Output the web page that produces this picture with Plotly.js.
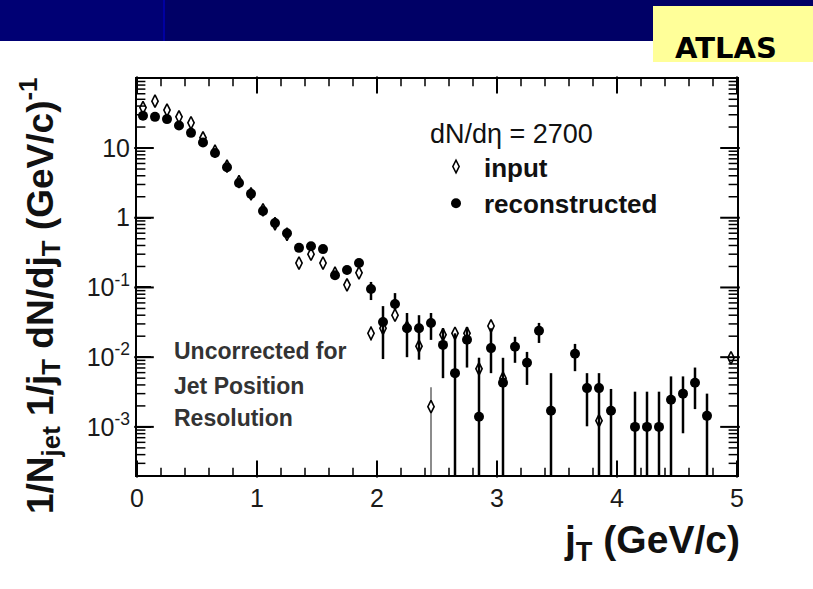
<!DOCTYPE html>
<html>
<head>
<meta charset="utf-8">
<script src="https://cdn.plot.ly/plotly-3.0.1.min.js"></script>
<style>
html,body{margin:0;padding:0;background:#ffffff;}
#chart{width:813px;height:589px;}
</style>
</head>
<body>
<div id="chart"></div>
<script>
// bin centres of j_T (GeV/c)
const jT = [0.05,0.15,0.25,0.35,0.45,0.55,0.65,0.75,0.85,0.95,
            1.05,1.15,1.25,1.35,1.45,1.55,1.65,1.75,1.85,1.95,
            2.05,2.15,2.25,2.35,2.45,2.55,2.65,2.75,2.85,2.95,
            3.05,3.15,3.25,3.35,3.45,3.55,3.65,3.75,3.85,3.95,
            4.05,4.15,4.25,4.35,4.45,4.55,4.65,4.75,4.85,4.95];

// reconstructed (filled circles)
const reco = [29,28,26,21,16.5,12,8.5,5.3,3.15,2.2,
              1.25,0.84,0.60,0.37,0.39,0.355,0.15,0.178,0.224,0.095,
              0.032,0.058,0.026,0.026,0.031,0.015,0.0059,0.0178,0.0014,0.0135,
              0.0043,0.0141,0.0083,0.024,0.0017,null,0.0112,0.0036,0.0036,0.0017,
              null,0.0010,0.0010,0.0010,0.00245,0.0030,0.0043,0.00144,null,null];
// upper / lower ends of the error bars of the reconstructed points
const recoHi = [null,null,null,null,null,null,null,null,null,null,
                null,null,0.65,0.41,0.43,0.39,0.17,0.20,0.25,0.12,
                0.054,0.083,0.043,0.040,0.043,0.026,0.022,0.027,0.0098,0.026,
                0.0098,0.0196,0.0119,0.031,0.0059,null,0.0155,0.0059,0.0059,0.0035,
                null,0.0032,0.0032,0.0032,0.0053,0.0053,0.0071,0.0030,null,null];
const recoLo = [null,null,null,null,null,null,null,null,null,null,
                null,null,0.55,0.33,0.35,0.32,0.13,0.155,0.20,0.066,
                0.0094,0.048,0.010,0.0092,0.0177,0.005,0.0001,0.0071,0.0001,0.0059,
                0.0001,0.0083,0.004,0.016,0.0001,null,0.0063,0.00102,0.0001,0.0001,
                null,0.0001,0.0001,0.0001,0.0001,0.00081,0.0018,0.0001,null,null];

// input (open markers)
const input = [38,47,35,28,23,14,9,5.5,3.3,2.2,
               1.3,0.82,0.58,0.224,0.30,0.224,0.16,0.109,0.162,0.022,
               0.026,0.040,0.027,0.0144,0.00195,0.021,0.022,0.022,0.0068,0.028,
               0.005,null,null,null,null,null,null,null,0.00123,null,
               null,null,null,null,null,null,null,null,null,0.0098];
const inputHi = [null,null,null,null,null,null,null,null,null,null,
                 null,null,null,null,null,null,null,null,null,0.028,
                 null,null,null,0.018,0.0037,null,null,null,0.0098,null,
                 0.0075,null,null,null,null,null,null,null,0.0045,null,
                 null,null,null,null,null,null,null,null,null,0.0115];
const inputLo = [null,null,null,null,null,null,null,null,null,null,
                 null,null,null,null,null,null,null,null,null,0.017,
                 null,null,null,0.011,0.0001,null,null,null,0.0034,null,
                 0.0025,null,null,null,null,null,null,null,0.0001,null,
                 null,null,null,null,null,null,null,null,null,0.0085];

const yTickVals = [0.001,0.01,0.1,1,10];
const yTickText = ['10<sup>-3</sup>','10<sup>-2</sup>','10<sup>-1</sup>','1','10'];
const xTickVals = [0,1,2,3,4,5];
const xRange = [0, 5];
const yRange = [-3.69, 1.99];   // log10 units

function plus(v, hi){ return v.map((y,i)=> (y==null||hi[i]==null)?0:hi[i]-y); }
function minus(v, lo){ return v.map((y,i)=> (y==null||lo[i]==null)?0:y-lo[i]); }

// page geometry helpers (pixel -> paper) for slide decoration
const ML=137, MR=76, MT=79, MB=114, W=813, H=589;
const PW=W-ML-MR, PH=H-MT-MB;
function px(x){ return (x-ML)/PW; }
function py(y){ return (H-MB-y)/PH; }

const FONT = 'Liberation Sans, Arial, sans-serif';

const traces = [
  {
    x: jT, y: input, name: '<b>input</b>', type: 'scatter', mode: 'markers',
    marker: {symbol: 'diamond-tall', size: 9, color: '#ffffff', line: {color: '#000000', width: 1.6}},
    error_y: {type: 'data', symmetric: false, array: plus(input, inputHi), arrayminus: minus(input, inputLo),
              color: '#8c8c8c', thickness: 2, width: 0},
    cliponaxis: true
  },
  {
    x: jT, y: reco, name: '<b>reconstructed</b>', type: 'scatter', mode: 'markers',
    marker: {symbol: 'circle', size: 10, color: '#000000'},
    error_y: {type: 'data', symmetric: false, array: plus(reco, recoHi), arrayminus: minus(reco, recoLo),
              color: '#000000', thickness: 2.5, width: 0},
    cliponaxis: true
  }
];

// inward-pointing frame ticks (axis decoration) drawn as short line markers,
// placed from the tick-value arrays through the axes' own scales
const MAJ_X = 12, MIN_X = 6, MAJ_Y = 14, MIN_Y = 7;
const xMinor = [];
for (let k = 1; k < 25; k++) { if (k % 5 !== 0) xMinor.push(k / 5); }
const yMinor = [];
for (let e = -4; e <= 1; e++) for (let d = 2; d <= 9; d++) {
  const v = d * Math.pow(10, e);
  if (Math.log10(v) > yRange[0] && Math.log10(v) < yRange[1]) yMinor.push(v);
}
const pxPerDec = PH / (yRange[1] - yRange[0]);
const pxPerUnit = PW / (xRange[1] - xRange[0]);
function tickTrace(xs, ys, sym, len, w){
  return {x: xs, y: ys, type: 'scatter', mode: 'markers', showlegend: false, hoverinfo: 'skip',
          cliponaxis: false,
          marker: {symbol: sym, size: len, color: '#000000', line: {color: '#000000', width: w}}};
}
function xTicks(vals, len, w){
  const yb = Math.pow(10, yRange[0] + (len/2)/pxPerDec);
  const yt = Math.pow(10, yRange[1] - (len/2)/pxPerDec);
  traces.push(tickTrace(vals, vals.map(() => yb), 'line-ns', len, w));
  traces.push(tickTrace(vals, vals.map(() => yt), 'line-ns', len, w));
}
function yTicks(vals, len, w){
  const xl = xRange[0] + (len/2)/pxPerUnit;
  const xr = xRange[1] - (len/2)/pxPerUnit;
  traces.push(tickTrace(vals.map(() => xl), vals, 'line-ew', len, w));
  traces.push(tickTrace(vals.map(() => xr), vals, 'line-ew', len, w));
}
xTicks(xTickVals, MAJ_X, 2);
xTicks(xMinor, MIN_X, 1.5);
yTicks(yTickVals, MAJ_Y, 2);
yTicks(yMinor, MIN_Y, 1.5);

const layout = {
  width: W, height: H,
  margin: {l: ML, r: MR, t: MT, b: MB, pad: 0},
  paper_bgcolor: '#ffffff', plot_bgcolor: 'rgba(0,0,0,0)',
  font: {family: FONT, color: '#111111'},
  showlegend: true,
  legend: {
    x: px(428), y: py(108), xanchor: 'left', yanchor: 'top',
    bgcolor: 'rgba(0,0,0,0)', borderwidth: 0,
    font: {family: FONT, size: 26, color: '#111111'},
    title: {text: 'dN/dη = 2700', font: {family: FONT, size: 27, color: '#111111'}},
    itemwidth: 46, tracegroupgap: 0
  },
  xaxis: {
    range: xRange, tickmode: 'array', tickvals: xTickVals,
    ticks: 'inside', ticklen: 12, tickwidth: 2, tickcolor: '#000000',
    showline: true, linewidth: 2, linecolor: '#000000', mirror: true,
    showgrid: false, zeroline: false,
    tickfont: {family: FONT, size: 25, color: '#1a1a1a'}
  },
  yaxis: {
    type: 'log', range: yRange, tickmode: 'array', tickvals: yTickVals, ticktext: yTickText,
    ticks: 'inside', ticklen: 14, tickwidth: 2, tickcolor: '#000000',
    showline: true, linewidth: 2, linecolor: '#000000', mirror: true,
    showgrid: false, zeroline: false,
    tickfont: {family: FONT, size: 25, color: '#1a1a1a'}
  },
  shapes: [
    {type: 'rect', xref: 'paper', yref: 'paper', x0: px(0), x1: px(W), y0: py(41), y1: py(0),
     fillcolor: '#000066', line: {width: 0}, layer: 'above'},
    {type: 'rect', xref: 'paper', yref: 'paper', x0: px(0), x1: px(163), y0: py(41), y1: py(0),
     fillcolor: '#000074', line: {width: 0}, layer: 'above'},
    {type: 'line', xref: 'paper', yref: 'paper', x0: px(164), x1: px(164), y0: py(41), y1: py(0),
     line: {color: '#0000a0', width: 2}, layer: 'above'},
    {type: 'rect', xref: 'paper', yref: 'paper', x0: px(653), x1: px(W), y0: py(62), y1: py(6),
     fillcolor: '#ffff99', line: {width: 0}, layer: 'above'}
  ],
  annotations: [
    {xref: 'paper', yref: 'paper', x: px(726), y: py(48), xanchor: 'center', yanchor: 'middle',
     text: '<b>ATLAS</b>', showarrow: false,
     font: {family: 'DejaVu Sans, Verdana, sans-serif', size: 29, color: '#000000'}},
    {xref: 'paper', yref: 'paper', x: px(172), y: py(351), xanchor: 'left', yanchor: 'middle',
     text: '<b>Uncorrected for</b>', showarrow: false, font: {family: FONT, size: 23, color: '#333333'}},
    {xref: 'paper', yref: 'paper', x: px(172), y: py(386), xanchor: 'left', yanchor: 'middle',
     text: '<b>Jet Position</b>', showarrow: false, font: {family: FONT, size: 23, color: '#333333'}},
    {xref: 'paper', yref: 'paper', x: px(172), y: py(418), xanchor: 'left', yanchor: 'middle',
     text: '<b>Resolution</b>', showarrow: false, font: {family: FONT, size: 23, color: '#333333'}},
    {xref: 'paper', yref: 'paper', x: px(742), y: py(542), xanchor: 'right', yanchor: 'middle',
     text: '<b>j<sub>T</sub> (GeV/c)</b>', showarrow: false, font: {family: FONT, size: 39, color: '#111111'}},
    {xref: 'paper', yref: 'paper', x: px(39), y: py(296), xanchor: 'center', yanchor: 'middle', textangle: -90,
     text: '<b>1/N<sub>jet</sub> 1/j<sub>T</sub> dN/dj<sub>T</sub> (GeV/c)<sup>-1</sup></b>', showarrow: false,
     font: {family: FONT, size: 37, color: '#111111'}}
  ]
};

Plotly.newPlot('chart', traces, layout, {displayModeBar: false, staticPlot: true});
</script>
</body>
</html>
